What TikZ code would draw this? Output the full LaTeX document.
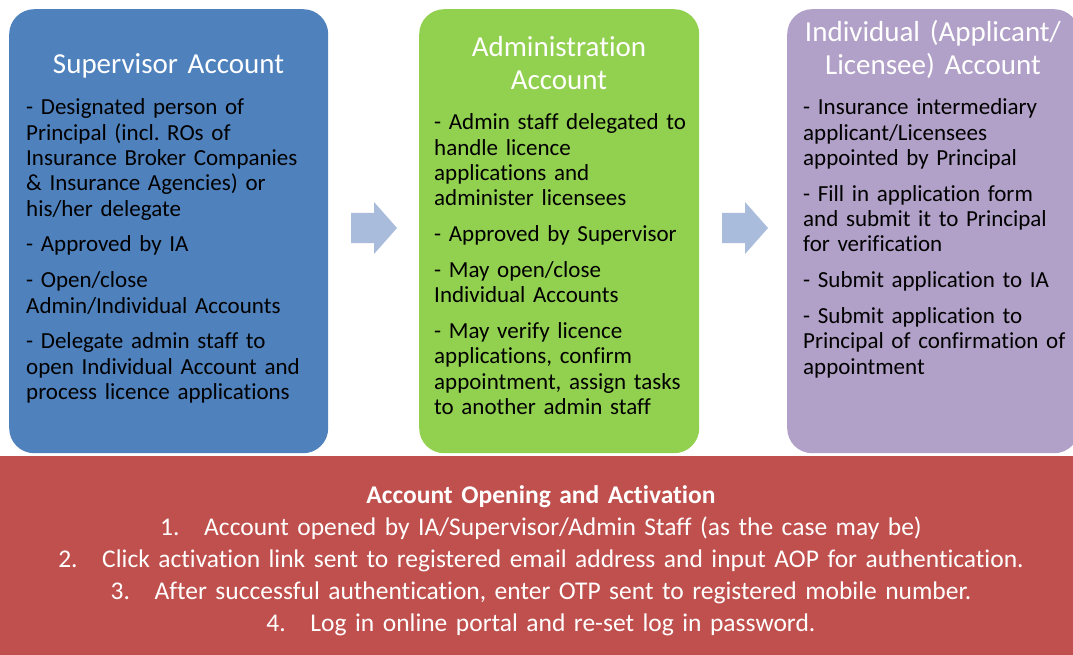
\documentclass[tikz,border=0pt]{standalone}
\usepackage{fontspec}
\setmainfont{Carlito}[Ligatures=CommonOff]
\frenchspacing
\definecolor{supblue}{HTML}{4F81BD}
\definecolor{admgreen}{HTML}{92D050}
\definecolor{indpurple}{HTML}{B1A0C7}
\definecolor{actred}{HTML}{C0504D}
\definecolor{arrowblue}{HTML}{A9BCDC}
\begin{document}
\begin{tikzpicture}[x=1pt,y=-1pt,
  card/.style={rounded corners=25pt, inner sep=0pt, anchor=north west},
  ttl/.style={text=white, font=\fontsize{29}{32.5}\selectfont\frenchspacing, text width=320pt, align=center, inner sep=0pt, anchor=base},
  body/.style={text=black, font=\fontsize{23}{25.3}\selectfont\frenchspacing, text width=300pt, align=left, inner sep=0pt, anchor=base west},
  blockarrow/.style={fill=arrowblue},
  bottomtext/.style={text=white, font=\fontsize{25.5}{32}\selectfont\frenchspacing, text width=1073pt, align=center, inner sep=0pt, anchor=base}]
\useasboundingbox (0,0) rectangle (1073,655);
\fill[white] (0,0) rectangle (1073,655);
% cards
\node[card, fill=supblue, minimum width=319pt, minimum height=444pt] (sup) at (9,9) {};
\node[card, fill=admgreen, minimum width=280pt, minimum height=444pt] (adm) at (419,9) {};
\node[card, fill=indpurple, minimum width=292pt, minimum height=444pt] (ind) at (787,9) {};
\node[fill=actred, inner sep=0pt, anchor=north west, minimum width=1073pt, minimum height=199pt] (act) at (0,456) {};
% block arrows
\fill[blockarrow] (351,213) -- (374,213) -- (374,202) -- (397,228) -- (374,254) -- (374,243) -- (351,243) -- cycle;
\fill[blockarrow] (722,213) -- (745,213) -- (745,202) -- (768,228) -- (745,254) -- (745,243) -- (722,243) -- cycle;
% titles
\node[ttl] (suptitle) at (168.5,74) {Supervisor Account};
\node[ttl] (admtitle) at (559,56.7) {Administration\\Account};
\node[ttl] (indtitle) at (933,41.7) {Individual (Applicant/\\Licensee) Account};
% bodies
\node[body] (suptxt) at (26,115) {- Designated person of\\ Principal (incl. ROs of\\ Insurance Broker Companies\\ \& Insurance Agencies) or\\ his/her delegate\\[10.5pt] - Approved by IA\\[10.5pt] - Open/close\\ Admin/Individual Accounts\\[10.5pt] - Delegate admin staff to\\ open Individual Account and\\ process licence applications};
\node[body] (admtxt) at (434,130) {- Admin staff delegated to\\ handle licence\\ applications and\\ administer licensees\\[10.5pt] - Approved by Supervisor\\[10.5pt] - May open/close\\ Individual Accounts\\[10.5pt] - May verify licence\\ applications, confirm\\ appointment, assign tasks\\ to another admin staff};
\node[body] (indtxt) at (803,115) {- Insurance intermediary\\ applicant/Licensees\\ appointed by Principal\\[10.5pt] - Fill in application form\\ and submit it to Principal\\ for verification\\[10.5pt] - Submit application to IA\\[10.5pt] - Submit application to\\ Principal of confirmation of\\ appointment};
% bottom
\node[bottomtext] (acttxt) at (541,503) {{\bfseries Account Opening and Activation}\\
\makebox[44pt][l]{1.}Account opened by IA/Supervisor/Admin Staff (as the case may be)\\
\makebox[44pt][l]{2.}Click activation link sent to registered email address and input AOP for authentication.\\
\makebox[44pt][l]{3.}After successful authentication, enter OTP sent to registered mobile number.\\
\makebox[44pt][l]{4.}Log in online portal and re-set log in password.};
\end{tikzpicture}
\end{document}
